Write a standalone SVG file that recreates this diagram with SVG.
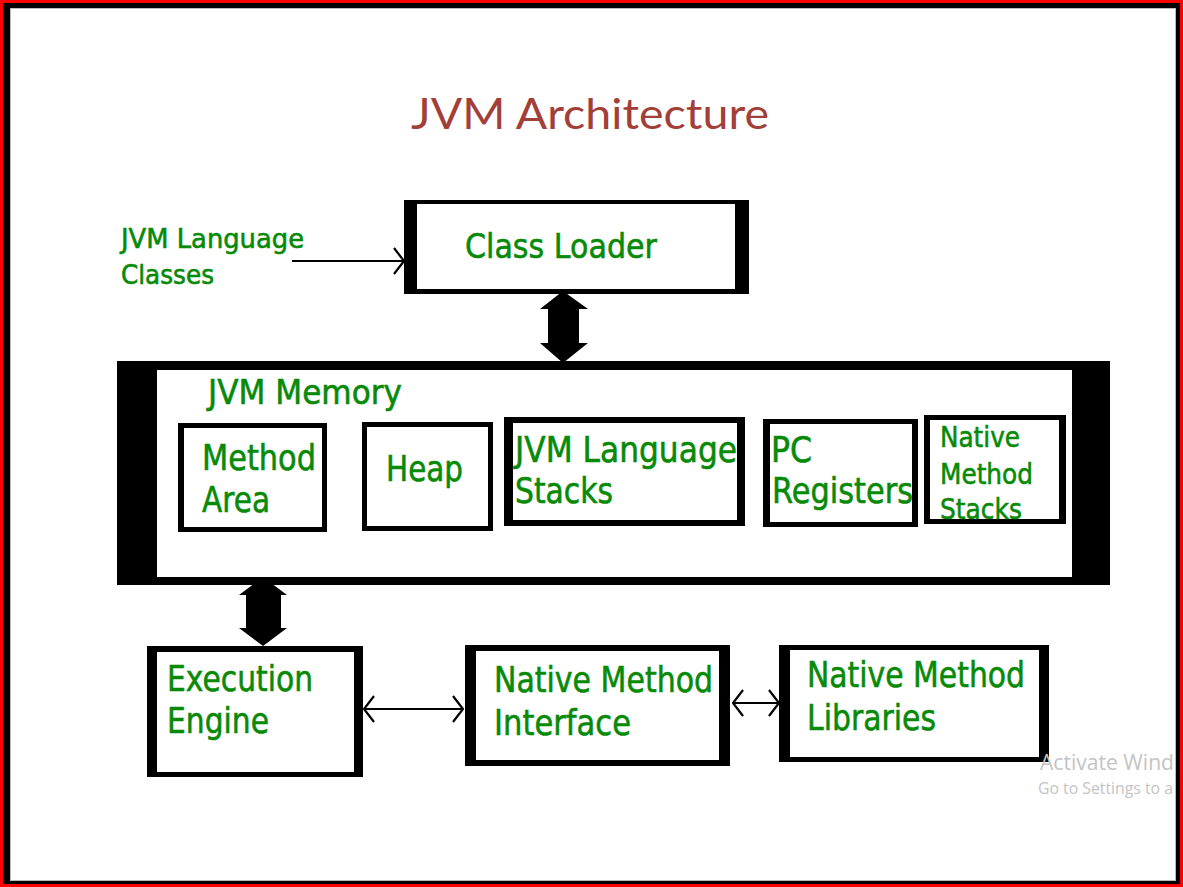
<svg xmlns="http://www.w3.org/2000/svg" width="1183" height="887" viewBox="0 0 1183 887">
<style>
.t{font-family:"DejaVu Sans","Liberation Sans",sans-serif;fill:#078a07;stroke:#078a07;stroke-width:0.6;}
.frame{fill:#000;}
.inner{fill:#fff;}
.thin{stroke:#000;stroke-width:2;fill:none;}
.thick{fill:#000;}
.wm{font-family:"Open Sans","Liberation Sans",sans-serif;fill:#c4c4c4;}
</style>
<defs>
<marker id="open" viewBox="0 0 12 28" refX="11" refY="14" markerWidth="12" markerHeight="28" markerUnits="userSpaceOnUse" orient="auto-start-reverse">
<path d="M1,1 L11,14 L1,27" fill="none" stroke="#000" stroke-width="2.2"/>
</marker>
</defs>
<rect x="0" y="0" width="1183" height="887" fill="#ff0000"/>
<rect x="3" y="3" width="1177" height="881" fill="#000"/>
<rect x="10" y="8" width="1166" height="873" fill="#fff"/>
<rect x="10.5" y="8.5" width="1165" height="872" fill="none" stroke="#bbb" stroke-width="1"/>

<text x="411" y="129" font-family="Lato,'Open Sans','Liberation Sans',sans-serif" font-size="43" fill="#a23f38" textLength="358" lengthAdjust="spacingAndGlyphs">JVM Architecture</text>

<g id="jvm-language-classes">
<text class="t" x="121" y="248" font-size="26" textLength="183" lengthAdjust="spacingAndGlyphs">JVM Language</text>
<text class="t" x="121" y="284" font-size="26" textLength="93" lengthAdjust="spacingAndGlyphs">Classes</text>
</g>

<g id="class-loader">
<rect class="frame" x="404" y="200" width="345" height="94"/>
<rect class="inner" x="417" y="204" width="318" height="85"/>
<text class="t" x="465" y="258" font-size="34" textLength="192" lengthAdjust="spacingAndGlyphs">Class Loader</text>
</g>

<g id="jvm-memory">
<rect class="frame" x="117" y="361" width="993" height="224"/>
<rect class="inner" x="157" y="370" width="915" height="207"/>
<text class="t" x="208" y="404" font-size="34" textLength="194" lengthAdjust="spacingAndGlyphs">JVM Memory</text>
</g>

<g id="method-area">
<rect class="frame" x="178" y="423" width="149" height="109"/>
<rect class="inner" x="184" y="428" width="138" height="99"/>
<text class="t" x="202" y="470" font-size="35" textLength="114" lengthAdjust="spacingAndGlyphs">Method</text>
<text class="t" x="202" y="512" font-size="35" textLength="68" lengthAdjust="spacingAndGlyphs">Area</text>
</g>

<g id="heap">
<rect class="frame" x="362" y="422" width="131" height="109"/>
<rect class="inner" x="367" y="427" width="121" height="99"/>
<text class="t" x="386" y="481" font-size="35" textLength="77" lengthAdjust="spacingAndGlyphs">Heap</text>
</g>

<g id="jvm-language-stacks">
<rect class="frame" x="504" y="417" width="241" height="109"/>
<rect class="inner" x="513" y="423" width="224" height="97"/>
<text class="t" x="515" y="462" font-size="35" textLength="222" lengthAdjust="spacingAndGlyphs">JVM Language</text>
<text class="t" x="515" y="503" font-size="35" textLength="98" lengthAdjust="spacingAndGlyphs">Stacks</text>
</g>

<g id="pc-registers">
<rect class="frame" x="763" y="419" width="155" height="108"/>
<rect class="inner" x="770" y="424" width="142" height="98"/>
<text class="t" x="771" y="462" font-size="35" textLength="41" lengthAdjust="spacingAndGlyphs">PC</text>
<text class="t" x="772" y="503" font-size="35" textLength="141" lengthAdjust="spacingAndGlyphs">Registers</text>
</g>

<g id="native-method-stacks">
<rect class="frame" x="924" y="415" width="142" height="109"/>
<rect class="inner" x="930" y="420" width="129" height="99"/>
<text class="t" x="940" y="447" font-size="29" textLength="80" lengthAdjust="spacingAndGlyphs">Native</text>
<text class="t" x="940" y="484" font-size="29" textLength="93" lengthAdjust="spacingAndGlyphs">Method</text>
<text class="t" x="940" y="519" font-size="29" textLength="82" lengthAdjust="spacingAndGlyphs">Stacks</text>
</g>

<g id="execution-engine">
<rect class="frame" x="147" y="646" width="216" height="131"/>
<rect class="inner" x="157" y="652" width="197" height="120"/>
<text class="t" x="167" y="691" font-size="36" textLength="146" lengthAdjust="spacingAndGlyphs">Execution</text>
<text class="t" x="167" y="733" font-size="36" textLength="102" lengthAdjust="spacingAndGlyphs">Engine</text>
</g>

<g id="native-method-interface">
<rect class="frame" x="465" y="645" width="265" height="121"/>
<rect class="inner" x="476" y="651" width="243" height="109"/>
<text class="t" x="494" y="692" font-size="36" textLength="219" lengthAdjust="spacingAndGlyphs">Native Method</text>
<text class="t" x="494" y="735" font-size="36" textLength="137" lengthAdjust="spacingAndGlyphs">Interface</text>
</g>

<g id="native-method-libraries">
<rect class="frame" x="779" y="645" width="270" height="117"/>
<rect class="inner" x="790" y="650" width="249" height="107"/>
<text class="t" x="807" y="687" font-size="36" textLength="218" lengthAdjust="spacingAndGlyphs">Native Method</text>
<text class="t" x="807" y="730" font-size="36" textLength="129" lengthAdjust="spacingAndGlyphs">Libraries</text>
</g>

<g id="connectors">
<line class="thin" x1="292" y1="261" x2="404" y2="261" marker-end="url(#open)"/>
<line class="thin" x1="364" y1="709" x2="463" y2="709" marker-start="url(#open)" marker-end="url(#open)"/>
<line class="thin" x1="733" y1="703" x2="779" y2="703" marker-start="url(#open)" marker-end="url(#open)"/>
<polygon class="thick" points="563,291 588,309 579,309 579,343 588,343 563,363 540,343 548,343 548,309 540,309"/>
<polygon class="thick" points="263,577 287,595 281,595 281,628 287,628 263,646 239,628 246,628 246,595 239,595"/>
</g>

<text class="wm" x="1040" y="770" font-size="22" textLength="134" lengthAdjust="spacingAndGlyphs">Activate Wind</text>
<text class="wm" x="1038" y="794" font-size="16" textLength="135" lengthAdjust="spacingAndGlyphs">Go to Settings to a</text>
</svg>
